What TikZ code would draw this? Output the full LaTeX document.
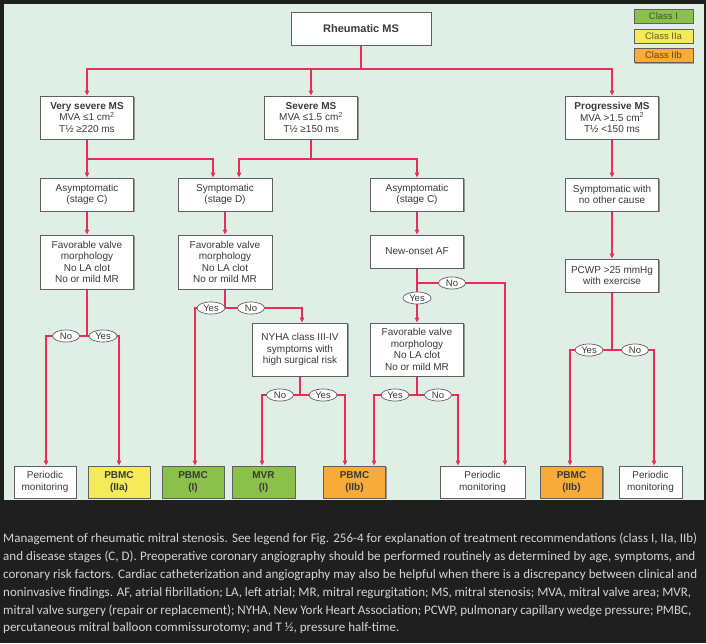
\documentclass[tikz,border=0pt]{standalone}
\usepackage{fontspec}
\setmainfont{Liberation Sans}
\newfontfamily\capfont{Carlito}
\usetikzlibrary{arrows.meta,shapes.geometric,shadows}

\definecolor{pagebg}{RGB}{31,31,31}
\definecolor{panel}{RGB}{224,239,230}
\definecolor{flow}{RGB}{234,45,88}
\definecolor{edge}{RGB}{95,95,95}
\definecolor{ink}{RGB}{58,58,58}
\definecolor{cI}{RGB}{139,192,74}
\definecolor{cIIa}{RGB}{244,234,90}
\definecolor{cIIb}{RGB}{247,172,57}
\definecolor{captext}{RGB}{212,212,212}

\tikzset{
  box/.style={draw=edge, line width=1pt, fill=white, text=ink, align=center,
    font=\fontsize{10}{11.6}\selectfont, inner sep=1pt,
    drop shadow={shadow xshift=1.2pt, shadow yshift=-1.2pt, opacity=0.35, fill=black}},
  endbox/.style={box, minimum height=32, minimum width=62},
  keybox/.style={draw=edge, line width=0.8pt, inner sep=0pt,
    font=\fontsize{9.5}{10}\selectfont, minimum width=59, minimum height=14,
    drop shadow={shadow xshift=1pt, shadow yshift=-1pt, opacity=0.3, fill=black}},
  yn/.style={ellipse, draw=edge, line width=0.7pt, fill=white, text=ink,
    inner sep=-1pt, minimum width=27, minimum height=12,
    font=\fontsize{9.5}{10}\selectfont},
  wire/.style={draw=flow, line width=1.5pt},
  arrw/.style={wire, -{Triangle[length=5pt,width=4.5pt]}},
}

\begin{document}
\begin{tikzpicture}[x=1pt,y=-1pt]
  % page and panel
  \fill[pagebg] (0,0) rectangle (706,643);
  \useasboundingbox (0,0) rectangle (706,643);
  \fill[panel] (4,4) rectangle (704,500);

  % legend
  \node[keybox, fill=cI, text=cI!45!black] (kI) at (663.5,16) {Class I};
  \node[keybox, fill=cIIa, text=cIIa!40!black] (kIIa) at (663.5,36) {Class IIa};
  \node[keybox, fill=cIIb, text=cIIb!40!black] (kIIb) at (663.5,55.5) {Class IIb};

  % boxes
  \node[box, minimum width=140, minimum height=33, font=\fontsize{11}{12}\selectfont\bfseries] (rms) at (361,28.5) {Rheumatic MS};

  \node[box, minimum width=93, minimum height=43] (vsev) at (87,117.5)
    {\textbf{Very severe MS}\\MVA \char"2264 1 cm\textsuperscript{2}\\T\char"BD\ \char"2265 220 ms};
  \node[box, minimum width=93, minimum height=43] (sev) at (311,117.5)
    {\textbf{Severe MS}\\MVA \char"2264 1.5 cm\textsuperscript{2}\\T\char"BD\ \char"2265 150 ms};
  \node[box, minimum width=93, minimum height=43] (prog) at (612,117.5)
    {\textbf{Progressive MS}\\MVA >1.5 cm\textsuperscript{2}\\T\char"BD\ <150 ms};

  \node[box, minimum width=93, minimum height=33] (asymL) at (87,194.5) {Asymptomatic\\(stage C)};
  \node[box, minimum width=94, minimum height=33] (sympD) at (225,194.5) {Symptomatic\\(stage D)};
  \node[box, minimum width=93, minimum height=33] (asymM) at (417,194.5) {Asymptomatic\\(stage C)};
  \node[box, minimum width=93, minimum height=33] (sympW) at (612,194.5) {Symptomatic with\\no other cause};

  \node[box, minimum width=93, minimum height=54] (favL) at (87,262)
    {Favorable valve\\morphology\\No LA clot\\No or mild MR};
  \node[box, minimum width=94, minimum height=54] (favD) at (225,262)
    {Favorable valve\\morphology\\No LA clot\\No or mild MR};
  \node[box, minimum width=93, minimum height=33] (naf) at (417,251.5) {New-onset AF};
  \node[box, minimum width=93, minimum height=33] (pcwp) at (612,275.5) {PCWP >25 mmHg\\with exercise};

  \node[box, minimum width=95, minimum height=53] (nyha) at (300,349.5)
    {NYHA class III-IV\\symptoms with\\high surgical risk};
  \node[box, minimum width=93, minimum height=53] (favM) at (417,349.5)
    {Favorable valve\\morphology\\No LA clot\\No or mild MR};

  % outcomes
  \node[endbox] (pm1) at (45,482) {Periodic\\monitoring};
  \node[endbox, fill=cIIa, font=\fontsize{10}{11.6}\selectfont\bfseries] (pb2a) at (119,482) {PBMC\\(IIa)};
  \node[endbox, fill=cI, font=\fontsize{10}{11.6}\selectfont\bfseries] (pb1) at (193,482) {PBMC\\(I)};
  \node[endbox, fill=cI, minimum width=63, font=\fontsize{10}{11.6}\selectfont\bfseries] (mvr) at (263.5,482) {MVR\\(I)};
  \node[endbox, fill=cIIb, font=\fontsize{10}{11.6}\selectfont\bfseries] (pb2b) at (354.5,482) {PBMC\\(IIb)};
  \node[endbox, minimum width=85] (pm2) at (482.5,482) {Periodic\\monitoring};
  \node[endbox, fill=cIIb, font=\fontsize{10}{11.6}\selectfont\bfseries] (pb2c) at (571.5,482) {PBMC\\(IIb)};
  \node[endbox, minimum width=63] (pm3) at (650.5,482) {Periodic\\monitoring};

  % junction points
  \coordinate (t0) at (361,69);
  \coordinate (t1) at (87,159);
  \coordinate (t2) at (311,159);
  \coordinate (jL) at (87,336);
  \coordinate (jD) at (225,308);
  \coordinate (jN) at (300,395);
  \coordinate (jA) at (417,283);
  \coordinate (jM) at (417,395);
  \coordinate (jP) at (612,350);

  % connectors
  \draw[wire] (rms) -- (t0);
  \draw[arrw] (t0) -| (vsev);
  \draw[arrw] (t0) -| (sev);
  \draw[arrw] (t0) -| (prog);

  \draw[arrw] (vsev) -- (asymL);
  \draw[arrw] (t1) -| ([xshift=-12pt]sympD.north);
  \draw[wire] (sev) -- (t2);
  \draw[arrw] (t2) -| ([xshift=14pt]sympD.north);
  \draw[arrw] (t2) -| (asymM);
  \draw[arrw] (prog) -- (sympW);

  \draw[arrw] (asymL) -- (favL);
  \draw[arrw] (sympD) -- (favD);
  \draw[arrw] (asymM) -- (naf);
  \draw[arrw] (sympW) -- (pcwp);

  \draw[wire] (favL) -- (jL);
  \draw[arrw] (jL) -| ([xshift=1pt]pm1.north);
  \draw[arrw] (jL) -| (pb2a);

  \draw[wire] (favD) -- (jD);
  \draw[arrw] (jD) -| ([xshift=2pt]pb1.north);
  \draw[arrw] (jD) -| ([xshift=2pt]nyha.north);

  \draw[wire] (nyha) -- (jN);
  \draw[arrw] (jN) -| ([xshift=-1.5pt]mvr.north);
  \draw[arrw] (jN) -| ([xshift=-9.5pt]pb2b.north);

  \draw[arrw] (naf) -- (favM);
  \draw[arrw] (jA) -| ([xshift=22.5pt]pm2.north);

  \draw[wire] (favM) -- (jM);
  \draw[arrw] (jM) -| ([xshift=19.5pt]pb2b.north);
  \draw[arrw] (jM) -| ([xshift=-24.5pt]pm2.north);

  \draw[wire] (pcwp) -- (jP);
  \draw[arrw] (jP) -| ([xshift=-1.5pt]pb2c.north);
  \draw[arrw] (jP) -| ([xshift=3.5pt]pm3.north);

  % decision labels
  \node[yn] (nL) at (66,336) {No};
  \node[yn, minimum width=28] (yL) at (103,336) {Yes};
  \node[yn, minimum width=28] (yD) at (211,308) {Yes};
  \node[yn] (nD) at (251,308) {No};
  \node[yn] (nN) at (280,395) {No};
  \node[yn, minimum width=28] (yN) at (323,395) {Yes};
  \node[yn] (nA) at (452,283) {No};
  \node[yn, minimum width=28] (yA) at (417,298) {Yes};
  \node[yn, minimum width=28] (yM) at (395,395) {Yes};
  \node[yn] (nM) at (438,395) {No};
  \node[yn, minimum width=28] (yP) at (589,350) {Yes};
  \node[yn] (nP) at (635,350) {No};

  % caption
  \node[anchor=north west, inner sep=0pt, align=left, text=captext,
        font=\capfont\fontsize{13}{17.8}\selectfont] (cap) at (3,533.2)
    {\makebox[694pt][s]{Management of rheumatic mitral stenosis. See legend for Fig. 256-4 for explanation of treatment recommendations (class I, IIa, IIb)}\\
     \makebox[692pt][s]{and disease stages (C, D). Preoperative coronary angiography should be performed routinely as determined by age, symptoms, and}\\
     \makebox[694pt][s]{coronary risk factors. Cardiac catheterization and angiography may also be helpful when there is a discrepancy between clinical and}\\
     \makebox[688pt][s]{noninvasive findings. AF, atrial fibrillation; LA, left atrial; MR, mitral regurgitation; MS, mitral stenosis; MVA, mitral valve area; MVR,}\\
     \makebox[688pt][s]{mitral valve surgery (repair or replacement); NYHA, New York Heart Association; PCWP, pulmonary capillary wedge pressure; PMBC,}\\
     percutaneous mitral balloon commissurotomy; and T \char"BD, pressure half-time.};
\end{tikzpicture}
\end{document}
